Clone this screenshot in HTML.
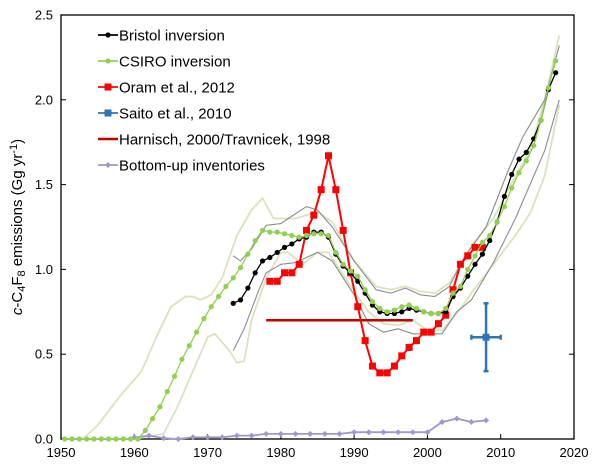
<!DOCTYPE html>
<html><head><meta charset="utf-8"><style>
body{margin:0;background:#fff}
svg{display:block;font-family:"Liberation Sans",sans-serif}
</style></head><body>
<svg id="chart" width="600" height="472"></svg>
<script>
const csiroYears=[];for(let y=1950.5;y<=2017.5;y++)csiroYears.push(y);
const csiroVals=[0,0,0,0,0,0,0,0,0,0,0,0.05,0.12,0.19,0.28,0.37,0.47,0.55,0.63,0.71,0.78,0.84,0.90,0.95,1.01,1.09,1.17,1.23,1.22,1.22,1.21,1.20,1.19,1.20,1.21,1.21,1.20,1.10,1.03,0.99,0.96,0.88,0.81,0.77,0.75,0.76,0.78,0.79,0.77,0.75,0.74,0.74,0.77,0.86,0.90,1.00,1.08,1.16,1.20,1.28,1.37,1.48,1.57,1.64,1.73,1.88,2.07,2.23];
const bristolYears=[];for(let y=1973.5;y<=2017.5;y++)bristolYears.push(y);
const bristolVals=[0.80,0.82,0.89,0.98,1.05,1.07,1.10,1.13,1.15,1.18,1.19,1.22,1.22,1.19,1.09,1.02,0.98,0.93,0.86,0.79,0.75,0.74,0.74,0.75,0.77,0.76,0.75,0.74,0.74,0.75,0.84,0.89,0.96,1.03,1.09,1.17,1.28,1.43,1.56,1.65,1.69,1.77,1.88,2.06,2.16];
const oramYears=[];for(let y=1978.5;y<=2007.5;y++)oramYears.push(y);
const oramVals=[0.93,0.93,0.98,0.98,1.03,1.23,1.32,1.47,1.67,1.47,1.23,0.98,0.78,0.58,0.43,0.39,0.39,0.43,0.49,0.54,0.58,0.63,0.63,0.68,0.73,0.88,1.03,1.08,1.13,1.13];
const bottomYears=[1960,1962,1964,1966,1968,1970,1972,1974,1976,1978,1980,1982,1984,1986,1988,1990,1992,1994,1996,1998,2000,2002,2004,2006,2008];
const bottomVals=[0.01,0.02,0.005,0,0.01,0.01,0.01,0.02,0.02,0.03,0.03,0.03,0.03,0.03,0.03,0.04,0.04,0.04,0.04,0.04,0.04,0.10,0.12,0.10,0.11];
const csiroUpYears=[1953,1955,1958,1961,1963,1965,1967,1968,1969,1970.5,1972,1974,1976,1977.5,1979,1982,1985,1987,1990,1993,1995,1997,1999,2001,2003,2006,2009,2012,2014,2016,2018];
const csiroUpVals=[0,0.08,0.25,0.4,0.6,0.78,0.84,0.84,0.82,0.85,0.95,1.2,1.35,1.42,1.3,1.3,1.34,1.28,1.05,0.90,0.88,0.90,0.87,0.86,0.92,1.14,1.3,1.55,1.7,2.0,2.38];
const csiroLoYears=[1960,1964,1966,1968,1970,1971,1973,1974,1975,1976,1978,1980,1981,1983,1985,1986.5,1988,1990,1992,1994,1996,1998,2000,2002,2004,2006,2009,2012,2014,2016,2018];
const csiroLoVals=[0,0.03,0.2,0.4,0.6,0.62,0.52,0.45,0.46,0.7,0.95,1.1,1.1,1.03,1.1,1.1,1.0,0.87,0.75,0.68,0.67,0.7,0.64,0.64,0.74,0.86,1.03,1.2,1.33,1.55,1.97];
const bristolUpYears=[1973.5,1974.5,1976,1978,1980,1981,1983.5,1985,1987,1990,1993,1995,1997,1999,2001,2003,2005,2008,2011,2013,2016,2018];
const bristolUpVals=[1.08,1.05,1.12,1.26,1.27,1.3,1.37,1.35,1.25,1.05,0.88,0.86,0.89,0.85,0.84,0.90,1.07,1.25,1.58,1.78,2.0,2.32];
const bristolLoYears=[1973.5,1975,1977,1978,1980,1982,1984,1985,1987,1990,1992,1994,1996,1998,2000,2002,2004,2006,2009,2012,2014,2016,2018];
const bristolLoVals=[0.52,0.65,0.88,0.98,1.03,1.04,1.08,1.1,1.05,0.85,0.68,0.63,0.65,0.62,0.62,0.62,0.75,0.82,1.04,1.3,1.5,1.7,2.0];
const harnisch=[1978,1998,0.70];
const saito={year:2008,value:0.60,yLo:0.40,yHi:0.80,xLo:2006,xHi:2010};
const xTicks=[1950,1960,1970,1980,1990,2000,2010,2020];
const yTicks=[0,0.5,1.0,1.5,2.0,2.5];

const NS='http://www.w3.org/2000/svg';
const svg=document.getElementById('chart');
const L=61,R=574,T=15,B=439;
const X=v=>L+(v-1950)/70*(R-L);
const Y=v=>B-v/2.5*(B-T);
function mk(tag,attrs,parent){const e=document.createElementNS(NS,tag);for(const k in attrs)e.setAttribute(k,attrs[k]);(parent||svg).appendChild(e);return e;}
function pts(xs,ys){return xs.map((x,i)=>X(x).toFixed(1)+','+Y(ys[i]).toFixed(1)).join(' ');}

let e=mk('rect',{x:L,y:T,width:R-L,height:B-T,fill:'none',stroke:'#000','stroke-width':1.3});


xTicks.forEach(t=>{
  let tk=mk('line',{x1:X(t),x2:X(t),y1:B,y2:B-5,stroke:'#000'});
  
  
  let tx=mk('text',{x:X(t),y:B+18,'text-anchor':'middle','font-size':13});
  tx.textContent=t;
  
  
});
yTicks.forEach(t=>{
  let tk=mk('line',{x1:L,x2:L+5,y1:Y(t),y2:Y(t),stroke:'#000'});
  
  
  let tk2=mk('line',{x1:R,x2:R-5,y1:Y(t),y2:Y(t),stroke:'#000'});
  
  
  let tx=mk('text',{x:L-8,y:Y(t)+4.5,'text-anchor':'end','font-size':13});
  tx.textContent=t.toFixed(1);
  
  
});
let yt=mk('text',{transform:`translate(22,${(T+B)/2}) rotate(-90)`,'text-anchor':'middle','font-size':15});
yt.innerHTML='<tspan font-style="italic">c</tspan>-C<tspan font-size="11" dy="3">4</tspan><tspan dy="-3">F</tspan><tspan font-size="11" dy="3">8</tspan><tspan dy="-3"> emissions (Gg yr</tspan><tspan font-size="11" dy="-5">-1</tspan><tspan dy="5">)</tspan>';



[[csiroUpYears,csiroUpVals,'#d8e3bf','csiro-upper-bound'],[csiroLoYears,csiroLoVals,'#d8e3bf','csiro-lower-bound'],[bristolUpYears,bristolUpVals,'#8c8c8c','bristol-upper-bound'],[bristolLoYears,bristolLoVals,'#8c8c8c','bristol-lower-bound']].forEach(([xs,ys,c,n])=>{
  let p=mk('polyline',{points:pts(xs,ys),fill:'none',stroke:c,'stroke-width':n.startsWith('csiro')?1.8:1.1,'stroke-linejoin':'round'});
  
  
});
let h=mk('line',{x1:X(harnisch[0]),x2:X(harnisch[1]),y1:Y(harnisch[2]),y2:Y(harnisch[2]),stroke:'#c00000','stroke-width':2.5});



function series(xs,ys,color,name,marker,w){
  const g=mk('g',{});
  
  
  mk('polyline',{points:pts(xs,ys),fill:'none',stroke:color,'stroke-width':w},g);
  xs.forEach((x,i)=>{
    let m;
    if(marker==='c')m=mk('circle',{cx:X(x),cy:Y(ys[i]),r:2.6,fill:color},g);
    else if(marker==='s')m=mk('rect',{x:X(x)-3.5,y:Y(ys[i])-3.5,width:7,height:7,fill:color},g);
    else m=mk('polygon',{points:`${X(x)},${Y(ys[i])-3} ${X(x)+3},${Y(ys[i])} ${X(x)},${Y(ys[i])+3} ${X(x)-3},${Y(ys[i])}`,fill:color},g);
    
    
  });
}
series(bottomYears,bottomVals,'#a397c8','bottom-up-series','d',1.8);
series(oramYears,oramVals,'#ff0000','oram-series','s',2);
series(bristolYears,bristolVals,'#000000','bristol-series','c',1.3);
series(csiroYears,csiroVals,'#92d050','csiro-series','c',1.3);

const sg=mk('g',{stroke:'#2e75b6','stroke-width':2.5});


mk('line',{x1:X(saito.year),x2:X(saito.year),y1:Y(saito.yLo),y2:Y(saito.yHi)},sg);
mk('line',{x1:X(saito.xLo),x2:X(saito.xHi),y1:Y(saito.value),y2:Y(saito.value)},sg);
mk('line',{x1:X(saito.year)-2.5,x2:X(saito.year)+2.5,y1:Y(saito.yLo),y2:Y(saito.yLo)},sg);
mk('line',{x1:X(saito.year)-2.5,x2:X(saito.year)+2.5,y1:Y(saito.yHi),y2:Y(saito.yHi)},sg);
mk('line',{x1:X(saito.xLo),x2:X(saito.xLo),y1:Y(saito.value)-2.5,y2:Y(saito.value)+2.5},sg);
mk('line',{x1:X(saito.xHi),x2:X(saito.xHi),y1:Y(saito.value)-2.5,y2:Y(saito.value)+2.5},sg);
mk('rect',{x:X(saito.year)-3.5,y:Y(saito.value)-3.5,width:7,height:7,fill:'#2e75b6',stroke:'none'},sg);

const legend=[['Bristol inversion','#000','c'],['CSIRO inversion','#92d050','c'],['Oram et al., 2012','#ff0000','s'],['Saito et al., 2010','#2e75b6','s'],['Harnisch, 2000/Travnicek, 1998','#c00000','n'],['Bottom-up inventories','#a397c8','d']];
legend.forEach(([t,c,m],i)=>{
  const y=35+i*26;
  const g=mk('g',{});
  
  
  mk('line',{x1:98,x2:118,y1:y,y2:y,stroke:c,'stroke-width':m==='n'?2.5:1.8},g);
  if(m==='c')mk('circle',{cx:108,cy:y,r:2.6,fill:c},g);
  if(m==='s')mk('rect',{x:104.5,y:y-3.5,width:7,height:7,fill:c},g);
  if(m==='d')mk('polygon',{points:`108,${y-3} 111,${y} 108,${y+3} 105,${y}`,fill:c},g);
  const tx=mk('text',{x:119,y:y+5.5,'font-size':15},g);
  tx.textContent=t;
});
</script>
</body></html>
